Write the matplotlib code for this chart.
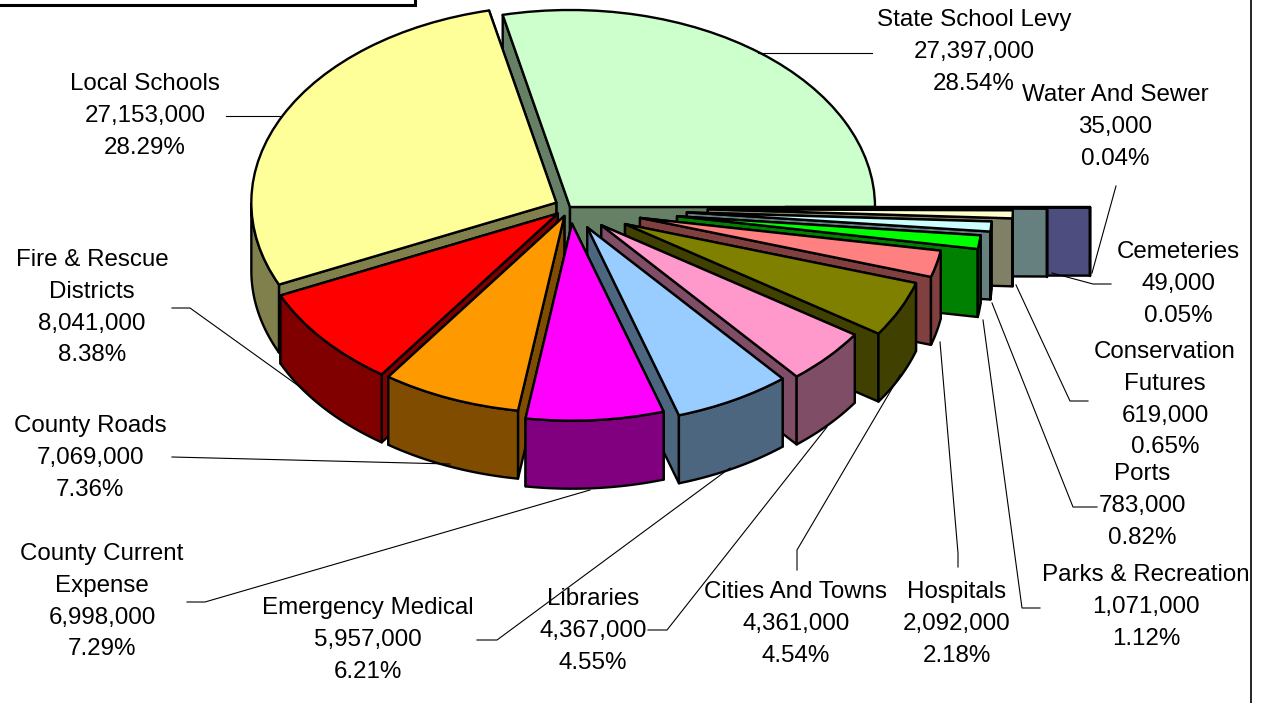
#Exploded 3D style pie of levy amounts
import matplotlib
matplotlib.use('Agg')
import matplotlib.pyplot as plt
from matplotlib.patches import Polygon
import numpy as np

plt.rcParams['font.family'] = ['Liberation Sans', 'DejaVu Sans']

names = ['State School Levy', 'Water And Sewer', 'Cemeteries', 'Conservation\nFutures', 'Ports',
         'Parks & Recreation', 'Hospitals', 'Cities And Towns', 'Libraries', 'Emergency Medical',
         'County Current\nExpense', 'County Roads', 'Fire & Rescue\nDistricts', 'Local Schools']
values = [27397000, 35000, 49000, 619000, 783000, 1071000, 2092000, 4361000, 4367000, 5957000,
          6998000, 7069000, 8041000, 27153000]
percents = ['28.54%', '0.04%', '0.05%', '0.65%', '0.82%', '1.12%', '2.18%', '4.54%', '4.55%', '6.21%',
            '7.29%', '7.36%', '8.38%', '28.29%']

top_colors = ['#CCFFCC', '#9999FF', '#CCFFFF', '#FFFFCC', '#CCFFFF', '#00FF00', '#FF8080', '#808000',
              '#FF99CC', '#99CCFF', '#FF00FF', '#FF9900', '#FF0000', '#FFFF99']
wall_colors = ['#668066', '#4D4D80', '#668080', '#808066', '#668080', '#008000', '#804040', '#404000',
               '#804D66', '#4D6680', '#800080', '#804D00', '#800000', '#80804D']
explode = [0, .705, .564, .452, .384, .354, .236, .2, .138, .118, .085, .049, .052, .05]

#where the label block is centred and where its first line sits, in pixels
label_pos = [(974, 20), (1115, 95), (1178, 252), (1165, 352), (1142, 474), (1146, 575), (957, 592),
             (796, 592), (593, 599), (368, 608), (102, 554), (90, 426), (92, 260), (145, 84)]
leaders = [[(758, 53), (872, 53)],
           [(1092, 273), (1116, 186)],
           [(1052, 273), (1093, 284), (1111, 284)],
           [(1016, 285), (1070, 401), (1088, 401)],
           [(992, 303), (1073, 507), (1097, 507)],
           [(983, 320), (1022, 608), (1040, 608)],
           [(940, 342), (958, 553), (958, 567)],
           [(900, 375), (797, 550), (797, 570)],
           [(827, 427), (667, 630), (648, 630)],
           [(730, 468), (497, 640), (477, 640)],
           [(590, 490), (205, 602), (187, 602)],
           [(450, 464), (172, 457)],
           [(307, 392), (190, 308), (172, 308)],
           [(280, 116), (226, 116)]]

WIDTH, HEIGHT = 1264, 703
#pie centre and radii in pixels, thickness of the slab
CX, CY, RX, RY, DEPTH = 570, 207, 305, 197, 68
EDGE = 1.7

fig = plt.figure(figsize=(WIDTH / 100, HEIGHT / 100), dpi=100)
ax = fig.add_axes([0, 0, 1, 1])

wedges, _ = ax.pie(values, explode=explode, startangle=360 * values[0] / sum(values), counterclock=False,
                   colors=top_colors, wedgeprops={'edgecolor': 'black', 'linewidth': EDGE})

#squash the pie: one data unit is RX pixels across and RY pixels down
ax.set_aspect('auto')
ax.set_xlim(-CX / RX, (WIDTH - CX) / RX)
ax.set_ylim((CY - HEIGHT) / RY, CY / RY)
depth = DEPTH / RY

#paint from the back to the front
mids = [np.radians((w.theta1 + w.theta2) / 2) for w in wedges]
order = sorted(range(len(wedges)), key=lambda i: -np.sin(mids[i]))

for rank, i in enumerate(order):
    w = wedges[i]
    cx, cy = w.center
    t = np.radians(np.linspace(w.theta1, w.theta2, 240))
    arc_x = cx + w.r * np.cos(t)
    arc_y = cy + w.r * np.sin(t)
    side_a = [(cx, cy), (arc_x[0], arc_y[0]), (arc_x[0], arc_y[0] - depth), (cx, cy - depth)]
    side_b = [(cx, cy), (arc_x[-1], arc_y[-1]), (arc_x[-1], arc_y[-1] - depth), (cx, cy - depth)]
    #the side whose outer corner is further back goes first so it can't draw over the near one
    faces = [side_a, side_b] if arc_y[0] > arc_y[-1] else [side_b, side_a]
    #only the part of the rim on the front half of the pie can be seen
    front = np.sin(t) <= 0
    if front.sum() > 1:
        fx, fy = arc_x[front], arc_y[front]
        faces.append(list(zip(fx, fy)) + list(zip(fx[::-1], fy[::-1] - depth)))
    for face in faces:
        ax.add_patch(Polygon(face, closed=True, facecolor=wall_colors[i], edgecolor='black',
                             linewidth=EDGE, joinstyle='round', zorder=2 * rank + 2))
    w.set_joinstyle('round')
    w.set_zorder(2 * rank + 3)

#overlay in pixels for the labels, leader lines and the frame bits
ov = fig.add_axes([0, 0, 1, 1], facecolor='none')
ov.set_xlim(0, WIDTH)
ov.set_ylim(HEIGHT, 0)
ov.axis('off')

for pts in leaders:
    ov.plot([p[0] for p in pts], [p[1] for p in pts], color='black', lw=0.8, solid_joinstyle='miter')

LINE = 31.8
for name, val, pct, (x, y) in zip(names, values, percents, label_pos):
    lines = name.split('\n') + [f'{val:,}', pct]
    for n, line in enumerate(lines):
        ov.text(x, y + n * LINE, line, ha='center', va='center', fontsize=17.4, color='black')

#remains of the title box and the chart border
ov.plot([0, 415, 415], [4.5, 4.5, 0], color='black', lw=2.2, solid_joinstyle='miter')
ov.plot([1251, 1251], [0, HEIGHT], color='black', lw=1.2)

fig.savefig('out.png', dpi=100, facecolor='white')
